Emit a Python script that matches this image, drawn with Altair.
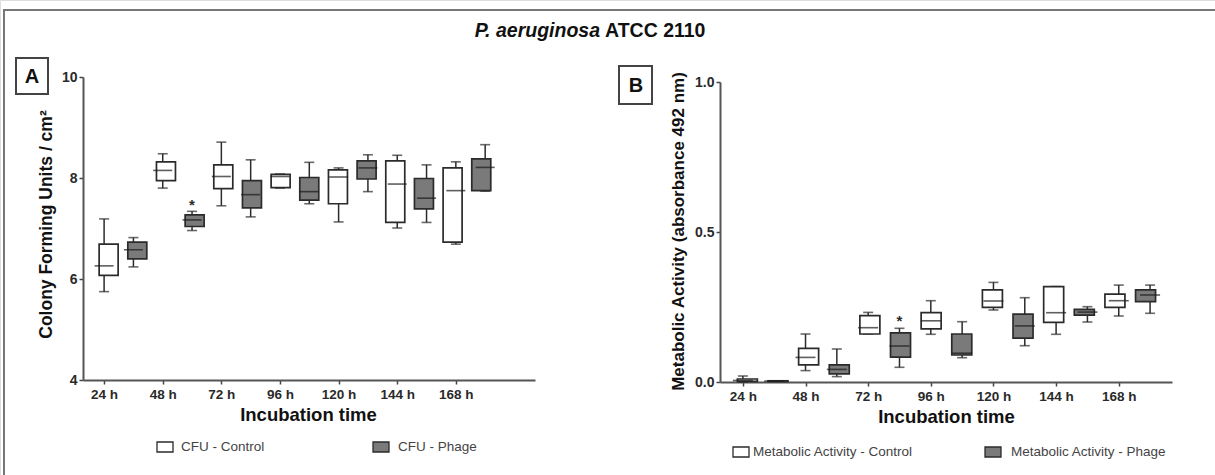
import altair as alt
import pandas as pd

# ---------------- data ----------------
times = ["24 h", "48 h", "72 h", "96 h", "120 h", "144 h", "168 h"]
groups = ["Control", "Phage"]

# Panel A: CFU (log10 CFU / cm2)
cfu_ctrl_min = [5.75, 7.80, 7.45, 7.80, 7.13, 7.01, 6.69]
cfu_ctrl_q1 = [6.07, 7.95, 7.79, 7.81, 7.49, 7.12, 6.73]
cfu_ctrl_med = [6.26, 8.15, 8.03, 8.03, 8.02, 7.88, 7.75]
cfu_ctrl_q3 = [6.69, 8.32, 8.26, 8.07, 8.16, 8.34, 8.20]
cfu_ctrl_max = [7.19, 8.48, 8.71, 8.08, 8.20, 8.45, 8.32]

cfu_phage_min = [6.24, 6.96, 7.23, 7.49, 7.73, 7.12, 7.74]
cfu_phage_q1 = [6.40, 7.04, 7.41, 7.56, 7.98, 7.39, 7.75]
cfu_phage_med = [6.58, 7.17, 7.67, 7.73, 8.20, 7.60, 8.21]
cfu_phage_q3 = [6.73, 7.27, 7.95, 8.01, 8.34, 7.99, 8.38]
cfu_phage_max = [6.82, 7.34, 8.36, 8.31, 8.46, 8.26, 8.66]
cfu_phage_star = [None, 7.54, None, None, None, None, None]

# Panel B: metabolic activity (absorbance 492 nm)
ma_ctrl_min = [0.000, 0.038, 0.160, 0.159, 0.240, 0.159, 0.220]
ma_ctrl_q1 = [0.002, 0.057, 0.160, 0.177, 0.249, 0.199, 0.249]
ma_ctrl_med = [0.005, 0.082, 0.181, 0.204, 0.270, 0.231, 0.271]
ma_ctrl_q3 = [0.010, 0.112, 0.221, 0.231, 0.307, 0.318, 0.293]
ma_ctrl_max = [0.020, 0.160, 0.232, 0.271, 0.332, 0.318, 0.323]

ma_phage_min = [0.002, 0.018, 0.049, 0.081, 0.121, 0.200, 0.229]
ma_phage_q1 = [0.002, 0.027, 0.083, 0.090, 0.146, 0.223, 0.268]
ma_phage_med = [0.003, 0.042, 0.120, 0.096, 0.187, 0.233, 0.290]
ma_phage_q3 = [0.004, 0.057, 0.164, 0.160, 0.226, 0.242, 0.307]
ma_phage_max = [0.004, 0.110, 0.179, 0.201, 0.281, 0.251, 0.323]
ma_phage_star = [None, None, 0.217, None, None, None, None]

cfu_ticks = [4, 6, 8, 10]
ma_ticks = [0.0, 0.5, 1.0]
legend_a = ["CFU - Control", "CFU - Phage"]
legend_b = ["Metabolic Activity - Control", "Metabolic Activity - Phage"]
title_italic = "P. aeruginosa"
title_plain = "ATCC 2110"

# ---------------- tables ----------------
def build(ctrl, phage, stars):
    rows = []
    for i, t in enumerate(times):
        for g, (mn, q1, md, q3, mx), off in (
            ("Control", [c[i] for c in ctrl], 0),
            ("Phage", [p[i] for p in phage], 1),
        ):
            rows.append(dict(time=t, grp=g, pos=2 * i + off, lo=mn, q1=q1,
                             med=md, q3=q3, hi=mx,
                             star=stars[i] if g == "Phage" else None))
    return pd.DataFrame(rows)

dfA = build([cfu_ctrl_min, cfu_ctrl_q1, cfu_ctrl_med, cfu_ctrl_q3, cfu_ctrl_max],
            [cfu_phage_min, cfu_phage_q1, cfu_phage_med, cfu_phage_q3, cfu_phage_max],
            cfu_phage_star)
dfB = build([ma_ctrl_min, ma_ctrl_q1, ma_ctrl_med, ma_ctrl_q3, ma_ctrl_max],
            [ma_phage_min, ma_phage_q1, ma_phage_med, ma_phage_q3, ma_phage_max],
            ma_phage_star)

FONT = "Liberation Sans"
INK = "#2b2b2b"
PHAGE_FILL = "#7a7a7a"
label_arr = "[" + ",".join("'%s'" % t for t in times) + "]"
label_expr = label_arr + "[datum.value / 2]"
fill_scale = alt.Scale(domain=groups, range=["white", PHAGE_FILL])


def axis_common(**kw):
    base = dict(grid=False, labelFont=FONT, labelFontWeight="bold", labelColor="#2a2a2a",
                labelFontSize=13.5, tickSize=4, tickWidth=1.5, tickColor="#444",
                domainColor="#555", domainWidth=2, titleFont=FONT,
                titleFontWeight="bold", titleColor="#111", labelOverlap=False,
                titleAlign="center", titleBaseline="middle")
    base.update(kw)
    return alt.Axis(**base)


def panel(df, xs, ys, xaxis, yaxis, box_w, cap_w):
    base = alt.Chart(df)
    x_ax = alt.X("pos:Q", scale=xs, axis=xaxis)
    y_ax = alt.Y("lo:Q", scale=ys, axis=yaxis)
    x_n = alt.X("pos:Q", scale=xs, axis=None)
    whisk = base.mark_rule(color=INK, strokeWidth=1.5).encode(
        x=x_ax, y=y_ax, y2="hi:Q")
    cap_lo = base.mark_tick(orient="horizontal", size=cap_w, thickness=1.6, color=INK).encode(
        x=x_n, y=alt.Y("lo:Q", scale=ys, axis=None))
    cap_hi = base.mark_tick(orient="horizontal", size=cap_w, thickness=1.6, color=INK).encode(
        x=x_n, y=alt.Y("hi:Q", scale=ys, axis=None))
    box = base.mark_bar(size=box_w, stroke=INK, strokeWidth=1.7).encode(
        x=x_n, y=alt.Y("q1:Q", scale=ys, axis=None), y2="q3:Q",
        fill=alt.Fill("grp:N", scale=fill_scale, legend=None))
    med = base.mark_tick(orient="horizontal", size=box_w, thickness=1.6, color="#1a1a1a").encode(
        x=x_n, y=alt.Y("med:Q", scale=ys, axis=None))
    star = base.transform_filter("isValid(datum.star)").mark_text(
        text="*", font=FONT, fontSize=15, fontWeight="bold", color=INK, dy=4).encode(
        x=x_n, y=alt.Y("star:Q", scale=ys, axis=None))
    return [whisk, cap_lo, cap_hi, box, med, star]


xsA = alt.Scale(domain=[-0.72, 14.7], range=[83, 535], nice=False, zero=False)
ysA = alt.Scale(domain=[4, 10], range=[380, 77], nice=False, zero=False)
xsB = alt.Scale(domain=[-0.73, 13.7], range=[720, 1172], nice=False, zero=False)
ysB = alt.Scale(domain=[0, 1], range=[382, 82], nice=False, zero=False)

xaxA = axis_common(orient="bottom", offset=-95, values=[0, 2, 4, 6, 8, 10, 12],
                   labelExpr=label_expr, labelFlush=False, labelPadding=3,
                   title="Incubation time", titleFontSize=18.5, titleX=308, titleY=34)
yaxA = axis_common(orient="left", offset=-83, values=cfu_ticks, format="d",
                   labelPadding=2, labelFlush=False, labelFontSize=14,
                   title="Colony Forming Units / cm²", titleFontSize=17.5,
                   titleX=-37, titleY=224, titleAngle=270)
xaxB = axis_common(orient="bottom", offset=-93, values=[0, 2, 4, 6, 8, 10, 12],
                   labelExpr=label_expr, labelFlush=False, labelPadding=3,
                   title="Incubation time", titleFontSize=18.5, titleX=946, titleY=34)
yaxB = axis_common(orient="left", offset=-720, values=ma_ticks, format=".1f",
                   labelPadding=2, labelFlush=False, labelFontSize=14,
                   title="Metabolic Activity (absorbance 492 nm)", titleFontSize=17,
                   titleX=-42, titleY=231, titleAngle=270)

layersA = panel(dfA, xsA, ysA, xaxA, yaxA, 19, 10)
layersB = panel(dfB, xsB, ysB, xaxB, yaxB, 20, 10)

# ---------------- decorations ----------------
one = pd.DataFrame({"k": [0]})
deco = alt.Chart(one)


def frame(x1, x2, y1, y2, color="#555", w=2):
    return deco.mark_rect(fillOpacity=0, stroke=color, strokeWidth=w).encode(
        x=alt.value(x1), x2=alt.value(x2), y=alt.value(y1), y2=alt.value(y2))


def label(txt, x, y, size, weight="normal", style="normal", align="center", color="#111"):
    return deco.mark_text(text=txt, font=FONT, fontSize=size, fontWeight=weight,
                          fontStyle=style, align=align, baseline="middle",
                          color=color).encode(x=alt.value(x), y=alt.value(y))


def icon(x, y, fill):
    return deco.mark_rect(fill=fill, stroke=INK, strokeWidth=1.3).encode(
        x=alt.value(x), x2=alt.value(x + 16), y=alt.value(y - 5), y2=alt.value(y + 5))


decos = [
    frame(4, 1230, 10, 490, color="#777", w=2),
    frame(16, 48, 58, 94, color="#444", w=2),
    label("A", 32, 77, 20, weight="bold"),
    frame(619, 652, 66, 104, color="#444", w=2),
    label("B", 636, 86, 20, weight="bold"),
    label(title_italic, 600, 31, 19.5, weight="bold", style="italic", align="right"),
    label(title_plain, 605, 31, 19.5, weight="bold", align="left"),
    icon(157, 447, "white"),
    label(legend_a[0], 181, 447, 13.5, align="left", color="#444"),
    icon(373, 447, PHAGE_FILL),
    label(legend_a[1], 398, 447, 13.5, align="left", color="#444"),
    icon(733, 452, "white"),
    label(legend_b[0], 753, 452, 13.5, align="left", color="#444"),
    icon(985, 452, PHAGE_FILL),
    label(legend_b[1], 1011, 452, 13.5, align="left", color="#444"),
]

chart = alt.layer(*decos, *layersA, *layersB).resolve_scale(
    x="independent", y="independent"
).resolve_axis(x="independent", y="independent").properties(
    width=1215, height=475,
    autosize=alt.AutoSizeParams(type="none"),
    padding=0,
    background="white",
).configure_view(stroke=None).configure(font=FONT)

chart.save("out.html", embed_options={"renderer": "svg", "actions": False})
